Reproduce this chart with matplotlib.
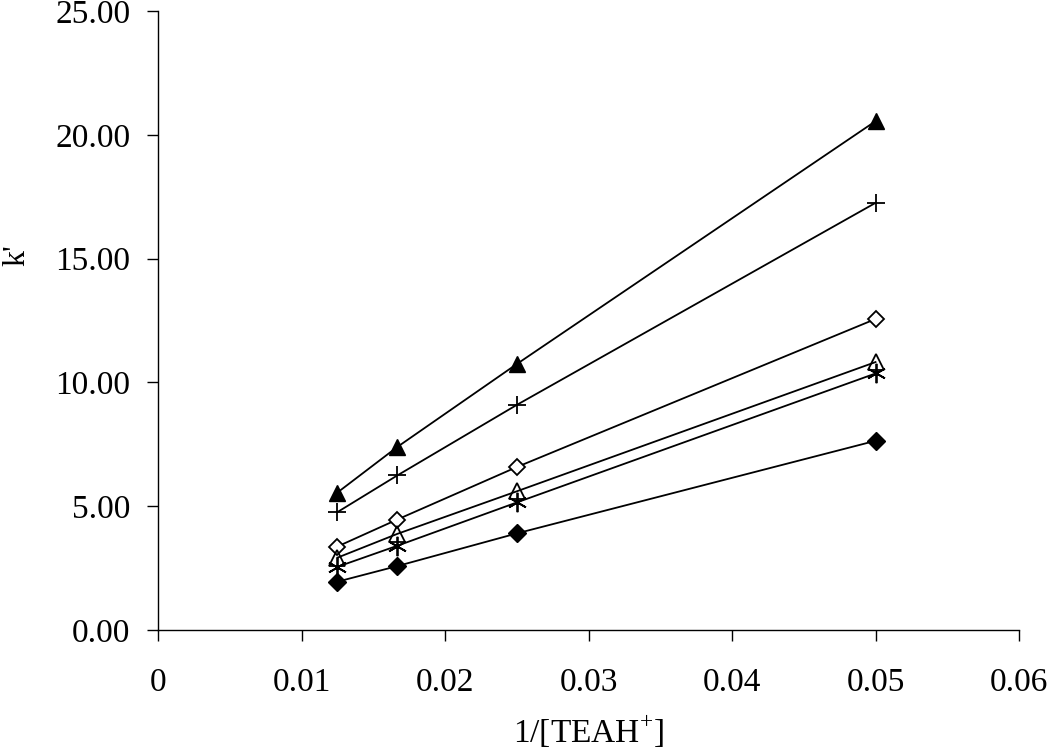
import matplotlib
matplotlib.use('Agg')
import matplotlib.pyplot as plt

plt.rcParams['font.family'] = ['Liberation Serif', 'DejaVu Serif']
plt.rcParams['mathtext.fontset'] = 'custom'
plt.rcParams['mathtext.rm'] = 'Liberation Serif'

# 1/[TEAH+] values
inv_teah = [0.0125, 0.01667, 0.025, 0.05]

# k' for each series
k_filled_triangle = [5.55, 7.39, 10.74, 20.55]
k_plus = [4.76, 6.24, 9.09, 17.25]
k_open_diamond = [3.37, 4.46, 6.58, 12.56]
k_open_triangle = [2.92, 3.88, 5.60, 10.82]
k_asterisk = [2.55, 3.40, 5.15, 10.36]
k_filled_diamond = [1.95, 2.58, 3.90, 7.64]

x_ticks = [0, 0.01, 0.02, 0.03, 0.04, 0.05, 0.06]
x_labels = ['0', '0.01', '0.02', '0.03', '0.04', '0.05', '0.06']
y_ticks = [0, 5, 10, 15, 20, 25]
y_labels = ['0.00', '5.00', '10.00', '15.00', '20.00', '25.00']

fig, ax = plt.subplots(figsize=(10.5, 7.54), dpi=100)
fig.subplots_adjust(left=0.1505, right=0.9705, bottom=0.1645, top=0.9854)

lw = 1.3
ax.plot(inv_teah, k_filled_triangle, color='black', lw=lw, marker='^', ms=12,
        mfc='black', mec='black')
ax.plot(inv_teah, k_plus, color='black', lw=lw, marker='+', ms=13, mew=1.3)
ax.plot(inv_teah, k_open_diamond, color='black', lw=lw, marker='D', ms=8.5,
        mfc='white', mec='black', mew=1.3)
ax.plot(inv_teah, k_open_triangle, color='black', lw=lw, marker='^', ms=11,
        mfc='none', mec='black', mew=1.3)
ax.plot(inv_teah, k_asterisk, color='black', lw=lw, marker=(6, 2, 0), ms=14, mew=1.3)
ax.plot(inv_teah, k_filled_diamond, color='black', lw=lw, marker='D', ms=9,
        mfc='black', mec='black')

ax.set_xlim(0, 0.06)
ax.set_ylim(0, 25)
ax.set_xticks(x_ticks)
ax.set_xticklabels(x_labels)
ax.set_yticks(y_ticks)
ax.set_yticklabels(y_labels)

ax.spines['top'].set_visible(False)
ax.spines['right'].set_visible(False)
for s in ['left', 'bottom']:
    ax.spines[s].set_linewidth(1.0)
ax.tick_params(axis='x', direction='out', length=8, width=1.0, pad=19, labelsize=24)
ax.tick_params(axis='y', direction='out', length=8, width=1.0, pad=12, labelsize=24)

ax.set_xlabel('1/[TEAH$^{+}$]', fontsize=24)
ax.xaxis.set_label_coords(0.5, -0.135)
ax.set_ylabel("k'", fontsize=23)
ax.yaxis.set_label_coords(-0.147, 0.606)

plt.savefig('out.png', dpi=100)
